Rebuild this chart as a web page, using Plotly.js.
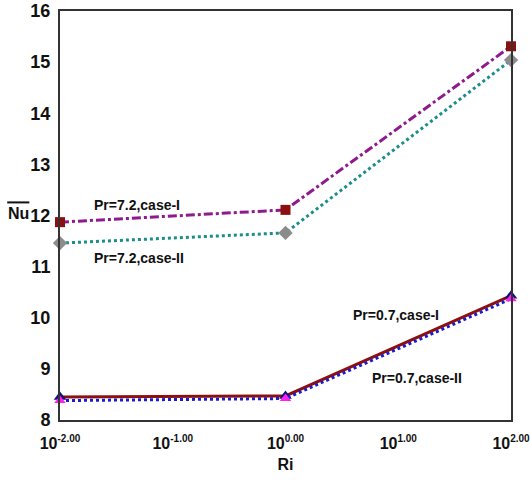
<!DOCTYPE html>
<html><head><meta charset="utf-8">
<script src="https://cdn.plot.ly/plotly-3.0.1.min.js"></script>
<style>body{margin:0;background:#fff}#c{width:530px;height:480px}</style>
</head><body><div id="c"></div>
<script>
const ri = [0.01, 1, 100];
const pr72caseI = [11.87, 12.11, 15.31];
const pr72caseII = [11.46, 11.66, 15.04];
const pr07caseI = [8.45, 8.47, 10.43];
const pr07caseII = [8.38, 8.42, 10.37];
const xTickVals = [0.01, 0.1, 1, 10, 100];
const xTickExp = ['-2.00','-1.00','0.00','1.00','2.00'];
const yTickVals = [8,9,10,11,12,13,14,15,16];

const tf = 'Liberation Sans, Arial, sans-serif';
const xTickText = xTickExp.map(e => '10<sup><span style="font-size:10px">' + e + '</span></sup>');
const traces = [
 {x: ri, y: pr07caseI, mode:'lines+markers', line:{color:'#8b1010', width:3},
  marker:{symbol:'triangle-up', size:11, color:'#10107a'}, cliponaxis:false},
 {x: ri, y: pr07caseII, mode:'lines+markers', line:{color:'#1a1ad0', width:3, dash:'dot'},
  marker:{symbol:'triangle-up', size:10, color:'#ff22ee'}, cliponaxis:false},
 {x: ri, y: pr72caseI, mode:'lines+markers', line:{color:'#8e1a8e', width:3, dash:'dashdot'},
  marker:{symbol:'square', size:10, color:'#8b0f0f'}, cliponaxis:false},
 {x: ri, y: pr72caseII, mode:'lines+markers', line:{color:'#1a8f8a', width:3, dash:'dot'},
  marker:{symbol:'diamond', size:11, color:'#8c8c8c'}, cliponaxis:false}
];
const fnt = {family:tf, size:14, color:'#111'};
const layout = {
 width:530, height:480, margin:{l:60, r:19, t:11, b:60},
 showlegend:false, paper_bgcolor:'#fff', plot_bgcolor:'#fff',
 font:{family:tf, color:'#111'},
 xaxis:{type:'log', range:[-2,2], tickvals:xTickVals, ticktext:xTickText,
   showgrid:false, zeroline:false, showline:true, mirror:true, linecolor:'#333', linewidth:2,
   ticks:'', ticklabeloverflow:'allow', ticklabelstandoff:8,
   tickfont:{family:tf, size:16, color:'#111', weight:'bold'},
   title:{text:'Ri', font:{size:16, weight:'bold'}, standoff:8}},
 yaxis:{range:[8,16], tickvals:yTickVals, showgrid:false, zeroline:false, showline:true,
   mirror:true, linecolor:'#333', linewidth:2, ticks:'', ticklabelstandoff:4,
   tickfont:{family:tf, size:18, color:'#111', weight:'bold'}},
 annotations:[
  {xref:'paper', yref:'paper', x:-0.093, y:0.5, text:'<b>Nu</b>', showarrow:false, font:{family:tf, size:16, color:'#111'}, xanchor:'center', yanchor:'middle', yshift:2},
  {xref:'x', yref:'y', x:-1.317, y:12.2, text:'<b>Pr=7.2,case-I</b>', showarrow:false, font:fnt},
  {xref:'x', yref:'y', x:-1.30, y:11.17, text:'<b>Pr=7.2,case-II</b>', showarrow:false, font:fnt},
  {xref:'x', yref:'y', x:0.98, y:10.05, text:'<b>Pr=0.7,case-I</b>', showarrow:false, font:fnt},
  {xref:'x', yref:'y', x:1.17, y:8.82, text:'<b>Pr=0.7,case-II</b>', showarrow:false, font:fnt}
 ],
 shapes:[
  {type:'line', xref:'paper', yref:'paper', x0:-0.117, x1:-0.068, y0:0.532, y1:0.532, line:{color:'#111', width:2}}
 ]
};
Plotly.newPlot('c', traces, layout, {displayModeBar:false, staticPlot:true});
</script></body></html>
